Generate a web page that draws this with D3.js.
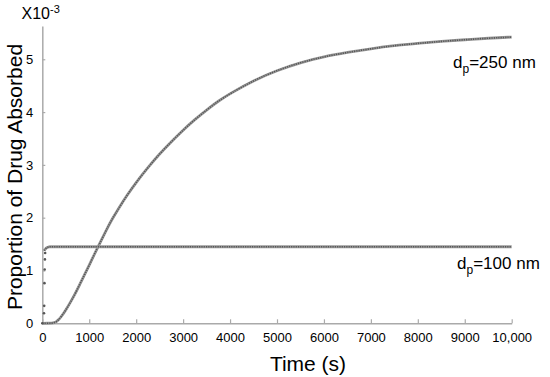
<!DOCTYPE html>
<html><head><meta charset="utf-8">
<script src="https://cdn.jsdelivr.net/npm/d3@7"></script>
<style>body{margin:0;background:#fff}svg{display:block;font-family:"Liberation Sans",Arial,sans-serif}</style>
</head><body><svg id="c" width="550" height="377"></svg>
<script>
// Data (values in units of 1e-3)
const xTicks = [0,1000,2000,3000,4000,5000,6000,7000,8000,9000,10000];
const xTickLabels = ["0","1000","2000","3000","4000","5000","6000","7000","8000","9000","10,000"];
const yTicks = [0,1,2,3,4,5];
const t250 = [0,100,200,250,300,350,400,500,600,700,800,900,1000,1100,1200,1300,1400,1500,1600,1800,2000,2250,2500,2750,3000,3250,3500,3750,4000,4500,5000,5500,6000,6500,7000,7500,8000,8500,9000,9500,10000];
const v250 = [0,0,0.003,0.01,0.03,0.07,0.12,0.25,0.40,0.56,0.74,0.92,1.10,1.29,1.47,1.65,1.83,1.99,2.14,2.42,2.67,2.95,3.21,3.44,3.66,3.86,4.04,4.21,4.35,4.6,4.79,4.94,5.05,5.13,5.2,5.26,5.3,5.34,5.37,5.40,5.42];
const t100 = [0,10,15,20,25,30,35,40,50,80,120,160,200,500,1000,2000,4000,6000,8000,10000];
const v100 = [0,0.19,0.33,0.76,1.02,1.21,1.33,1.375,1.39,1.42,1.44,1.45,1.45,1.45,1.45,1.45,1.45,1.45,1.45,1.45];
const labels = [{main:"d",sub:"p",rest:"=250 nm"},{main:"d",sub:"p",rest:"=100 nm"}];

const svg = d3.select("#c");
const x = d3.scaleLinear().domain([0,10000]).range([42.3,511.7]);
const y = d3.scaleLinear().domain([0,5.63]).range([323.3,26]);
const axisColor = "#aaa";

// x axis
const gx = svg.append("g").attr("transform","translate(0,"+y(0)+")")
  .call(d3.axisBottom(x).tickValues(xTicks).tickSizeInner(-4).tickSizeOuter(0).tickPadding(9)
  .tickFormat((d,i)=>xTickLabels[i]));
gx.select(".domain").attr("stroke",axisColor).attr("stroke-width",1.5);
gx.selectAll(".tick line").attr("stroke",axisColor).attr("stroke-width",1.2);
gx.selectAll(".tick text").attr("font-size",13).attr("fill","#000").attr("font-family","Liberation Sans, Arial, sans-serif");

// y axis
const gy = svg.append("g").attr("transform","translate("+x(0)+",0)")
  .call(d3.axisLeft(y).tickValues(yTicks).tickSizeInner(-3).tickSizeOuter(0).tickPadding(9).tickFormat(d3.format("d")));
gy.select(".domain").attr("stroke",axisColor).attr("stroke-width",1.5);
gy.selectAll(".tick line").attr("stroke",axisColor).attr("stroke-width",1.2);
gy.selectAll(".tick text").attr("font-size",13).attr("fill","#000").attr("font-family","Liberation Sans, Arial, sans-serif");

// curves
const lineSmooth = d3.line().x(d=>x(d[0])).y(d=>y(d[1])).curve(d3.curveBasis);
const lineMono = d3.line().x(d=>x(d[0])).y(d=>y(d[1])).curve(d3.curveMonotoneX);
const d250 = t250.map((t,i)=>[t,v250[i]]);
const d100 = t100.map((t,i)=>[t,v100[i]]);
const d100line = d100.filter(d=>d[0]>=40);
const d100dots = d100.filter(d=>d[0]<40);

function drawCurve(data, gen){
  svg.append("path").attr("d",gen(data)).attr("fill","none").attr("stroke","#999").attr("stroke-width",2.8);
  svg.append("path").attr("d",gen(data)).attr("fill","none").attr("stroke","#555").attr("stroke-width",1.6)
    .attr("stroke-dasharray","1.2,1.1");
}
drawCurve(d250, lineSmooth);
drawCurve(d100line, lineMono);
svg.selectAll("circle.early").data(d100dots).join("circle").attr("class","early")
  .attr("cx",(d,i)=>x(d[0])+ (i===0?0:1.2)).attr("cy",d=>y(d[1])).attr("r",1.3).attr("fill","#555");

// series labels
function seriesLabel(lab, xx, yy){
  const t = svg.append("text").attr("x",xx).attr("y",yy).attr("font-size",17).attr("fill","#000");
  t.append("tspan").text(lab.main);
  t.append("tspan").attr("dy",5).attr("font-size",12).text(lab.sub);
  t.append("tspan").attr("dy",-5).text(lab.rest);
}
seriesLabel(labels[0],453,68);
seriesLabel(labels[1],457,268.5);

// multiplier
const m = svg.append("text").attr("x",21.5).attr("y",18.5).attr("font-size",16).attr("fill","#000");
m.append("tspan").text("X10");
m.append("tspan").attr("dy",-6).attr("font-size",11).text("-3");

// axis titles
svg.append("text").attr("x",308).attr("y",370.5).attr("text-anchor","middle").attr("font-size",21).attr("fill","#000").text("Time (s)");
svg.append("text").attr("transform","translate(21.5,177) rotate(-90)").attr("text-anchor","middle").attr("font-size",21).attr("fill","#000").text("Proportion of Drug Absorbed");
</script></body></html>
